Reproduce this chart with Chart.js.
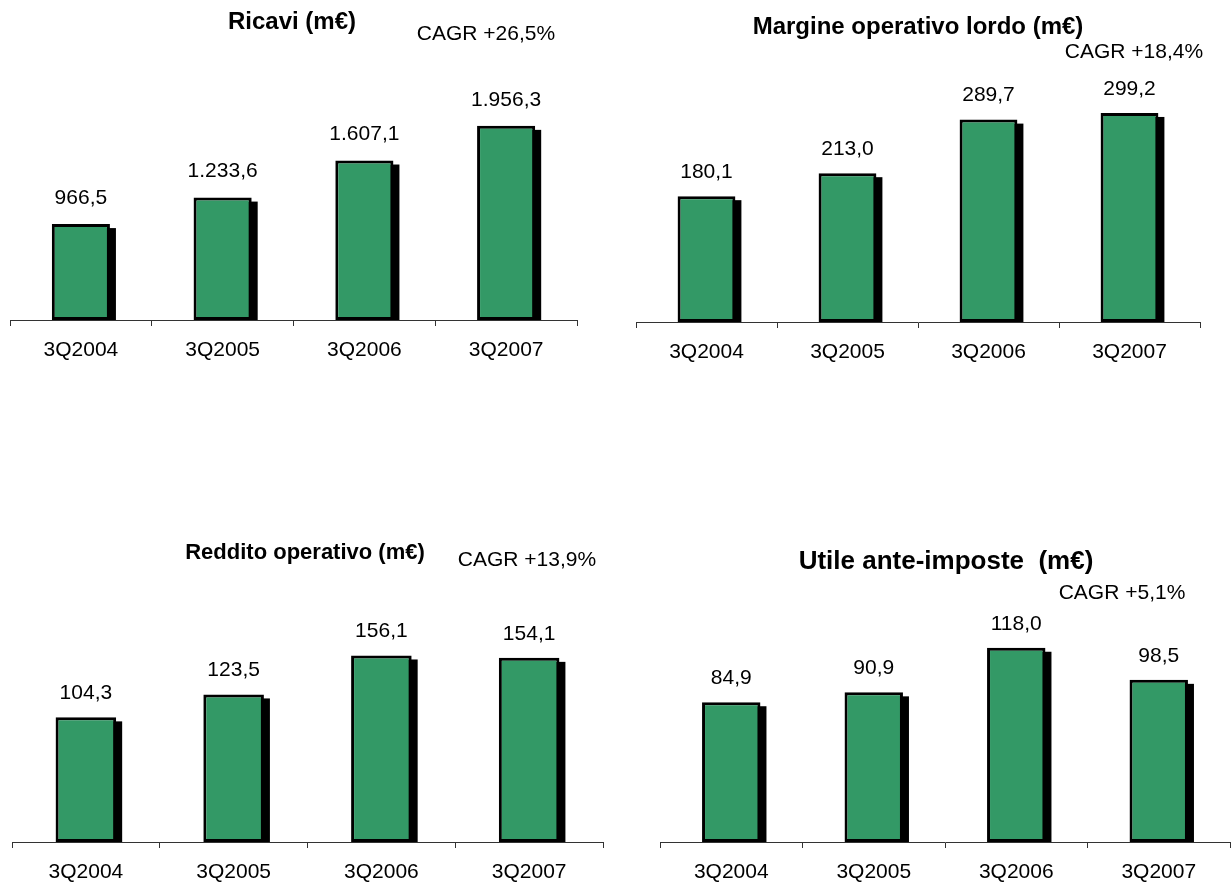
<!DOCTYPE html>
<html>
<head>
<meta charset="utf-8">
<title>Risultati 3Q2004 - 3Q2007</title>
<script src="https://cdn.jsdelivr.net/npm/chart.js@4.4.0/dist/chart.umd.min.js"></script>
<style>
  html, body { margin: 0; padding: 0; background: #ffffff; }
  #wrap { position: relative; width: 1231px; height: 884px; overflow: hidden; }
  #wrap canvas { position: absolute; left: 0; top: 0; }
</style>
</head>
<body>
<div id="wrap">
  <canvas id="ricavi" width="1231" height="884"></canvas>
  <canvas id="mol" width="1231" height="884"></canvas>
  <canvas id="reddito" width="1231" height="884"></canvas>
  <canvas id="utile" width="1231" height="884"></canvas>
</div>
<script>
// Periodi e valori (milioni di euro)
const quarters = ['3Q2004', '3Q2005', '3Q2006', '3Q2007'];
const ricavi = [966.5, 1233.6, 1607.1, 1956.3];
const margineOperativoLordo = [180.1, 213.0, 289.7, 299.2];
const redditoOperativo = [104.3, 123.5, 156.1, 154.1];
const utileAnteImposte = [84.9, 90.9, 118.0, 98.5];

const titles = ['Ricavi (m€)', 'Margine operativo lordo (m€)', 'Reddito operativo (m€)', 'Utile ante-imposte  (m€)'];
const cagrLabels = ['CAGR +26,5%', 'CAGR +18,4%', 'CAGR +13,9%', 'CAGR +5,1%'];

const FONT = '"Liberation Sans", Arial, Helvetica, sans-serif';
const PAGE_W = 1231, PAGE_H = 884;
const X_AXIS_H = 44;
const GREEN = '#339966';

// Italian number format: 1.956,3
function fmtIt(v) {
  const parts = v.toFixed(1).split('.');
  return parts[0].replace(/\B(?=(\d{3})+(?!\d))/g, '.') + ',' + parts[1];
}

// Solid black drop shadow behind each bar, taken from the bar element geometry
const barShadow = {
  id: 'barShadow',
  beforeDatasetDraw(chart, args, opts) {
    const ctx = chart.ctx;
    const area = chart.chartArea;
    ctx.save();
    ctx.fillStyle = '#000000';
    args.meta.data.forEach(bar => {
      const { x, y, base, width } = bar.getProps(['x', 'y', 'base', 'width'], true);
      const top = Math.min(y, base) + opts.dy;
      const bottom = Math.min(Math.max(y, base), area.bottom);
      if (bottom > top) {
        ctx.fillRect(x - width / 2 + opts.dx, top, width, bottom - top);
      }
    });
    ctx.restore();
  }
};

// Value above every bar
const valueLabels = {
  id: 'valueLabels',
  afterDatasetsDraw(chart, args, opts) {
    const ctx = chart.ctx;
    ctx.save();
    ctx.font = '21px ' + FONT;
    ctx.fillStyle = '#000';
    ctx.textAlign = 'center';
    ctx.textBaseline = 'middle';
    chart.data.datasets.forEach((ds, di) => {
      chart.getDatasetMeta(di).data.forEach((bar, i) => {
        ctx.fillText(fmtIt(ds.data[i]), bar.x, bar.y - opts.gap);
      });
    });
    ctx.restore();
  }
};

// Panel heading and growth rate
const panelText = {
  id: 'panelText',
  afterDraw(chart, args, opts) {
    const ctx = chart.ctx;
    ctx.save();
    ctx.fillStyle = '#000';
    ctx.textAlign = 'center';
    ctx.textBaseline = 'middle';
    ctx.font = 'bold ' + opts.titleSize + 'px ' + FONT;
    ctx.fillText(opts.title, opts.titleX, opts.titleY);
    ctx.font = '21px ' + FONT;
    ctx.fillText(opts.cagr, opts.cagrX, opts.cagrY);
    ctx.restore();
  }
};

function makePanel(id, values, p) {
  return new Chart(document.getElementById(id), {
    type: 'bar',
    data: {
      labels: quarters,
      datasets: [{
        data: values,
        backgroundColor: GREEN,
        borderColor: '#000000',
        borderWidth: 3,
        borderSkipped: false,
        barPercentage: 0.41,
        categoryPercentage: 1,
        clip: { left: false, right: false, top: false, bottom: 0 }
      }]
    },
    options: {
      responsive: false,
      animation: false,
      events: [],
      layout: {
        padding: {
          left: p.left,
          right: PAGE_W - p.right,
          top: p.top,
          bottom: PAGE_H - p.axisY - X_AXIS_H
        }
      },
      scales: {
        x: {
          offset: true,
          grid: {
            display: true,
            offset: true,
            drawOnChartArea: false,
            drawTicks: true,
            tickLength: 6,
            color: '#333333',
            lineWidth: 1
          },
          border: { display: true, color: '#333333', width: 1 },
          ticks: {
            color: '#000',
            font: { family: FONT, size: 21 },
            padding: 12,
            maxRotation: 0,
            autoSkip: false
          },
          afterFit(scale) { scale.height = X_AXIS_H; }
        },
        y: { display: false, min: 0, max: p.max }
      },
      plugins: {
        legend: { display: false },
        tooltip: { enabled: false },
        barShadow: { dx: 6, dy: 4 },
        valueLabels: { gap: p.gap },
        panelText: {
          title: p.title, titleSize: p.titleSize, titleX: p.titleX, titleY: p.titleY,
          cagr: p.cagr, cagrX: p.cagrX, cagrY: p.cagrY
        }
      }
    },
    plugins: [barShadow, valueLabels, panelText]
  });
}

makePanel('ricavi', ricavi, {
  left: 10, right: 577, top: 60, axisY: 320, max: 2620, gap: 26,
  title: titles[0], titleSize: 24, titleX: 292, titleY: 22,
  cagr: cagrLabels[0], cagrX: 486, cagrY: 34
});
makePanel('mol', margineOperativoLordo, {
  left: 636, right: 1200, top: 60, axisY: 322, max: 375, gap: 24,
  title: titles[1], titleSize: 24, titleX: 918, titleY: 27,
  cagr: cagrLabels[1], cagrX: 1134, cagrY: 52
});
makePanel('reddito', redditoOperativo, {
  left: 12, right: 603, top: 560, axisY: 842, max: 236, gap: 24,
  title: titles[2], titleSize: 22, titleX: 305, titleY: 553,
  cagr: cagrLabels[2], cagrX: 527, cagrY: 560
});
makePanel('utile', utileAnteImposte, {
  left: 660, right: 1230, top: 560, axisY: 842, max: 171.3, gap: 24,
  title: titles[3], titleSize: 26, titleX: 946, titleY: 562,
  cagr: cagrLabels[3], cagrX: 1122, cagrY: 593
});
</script>
</body>
</html>
